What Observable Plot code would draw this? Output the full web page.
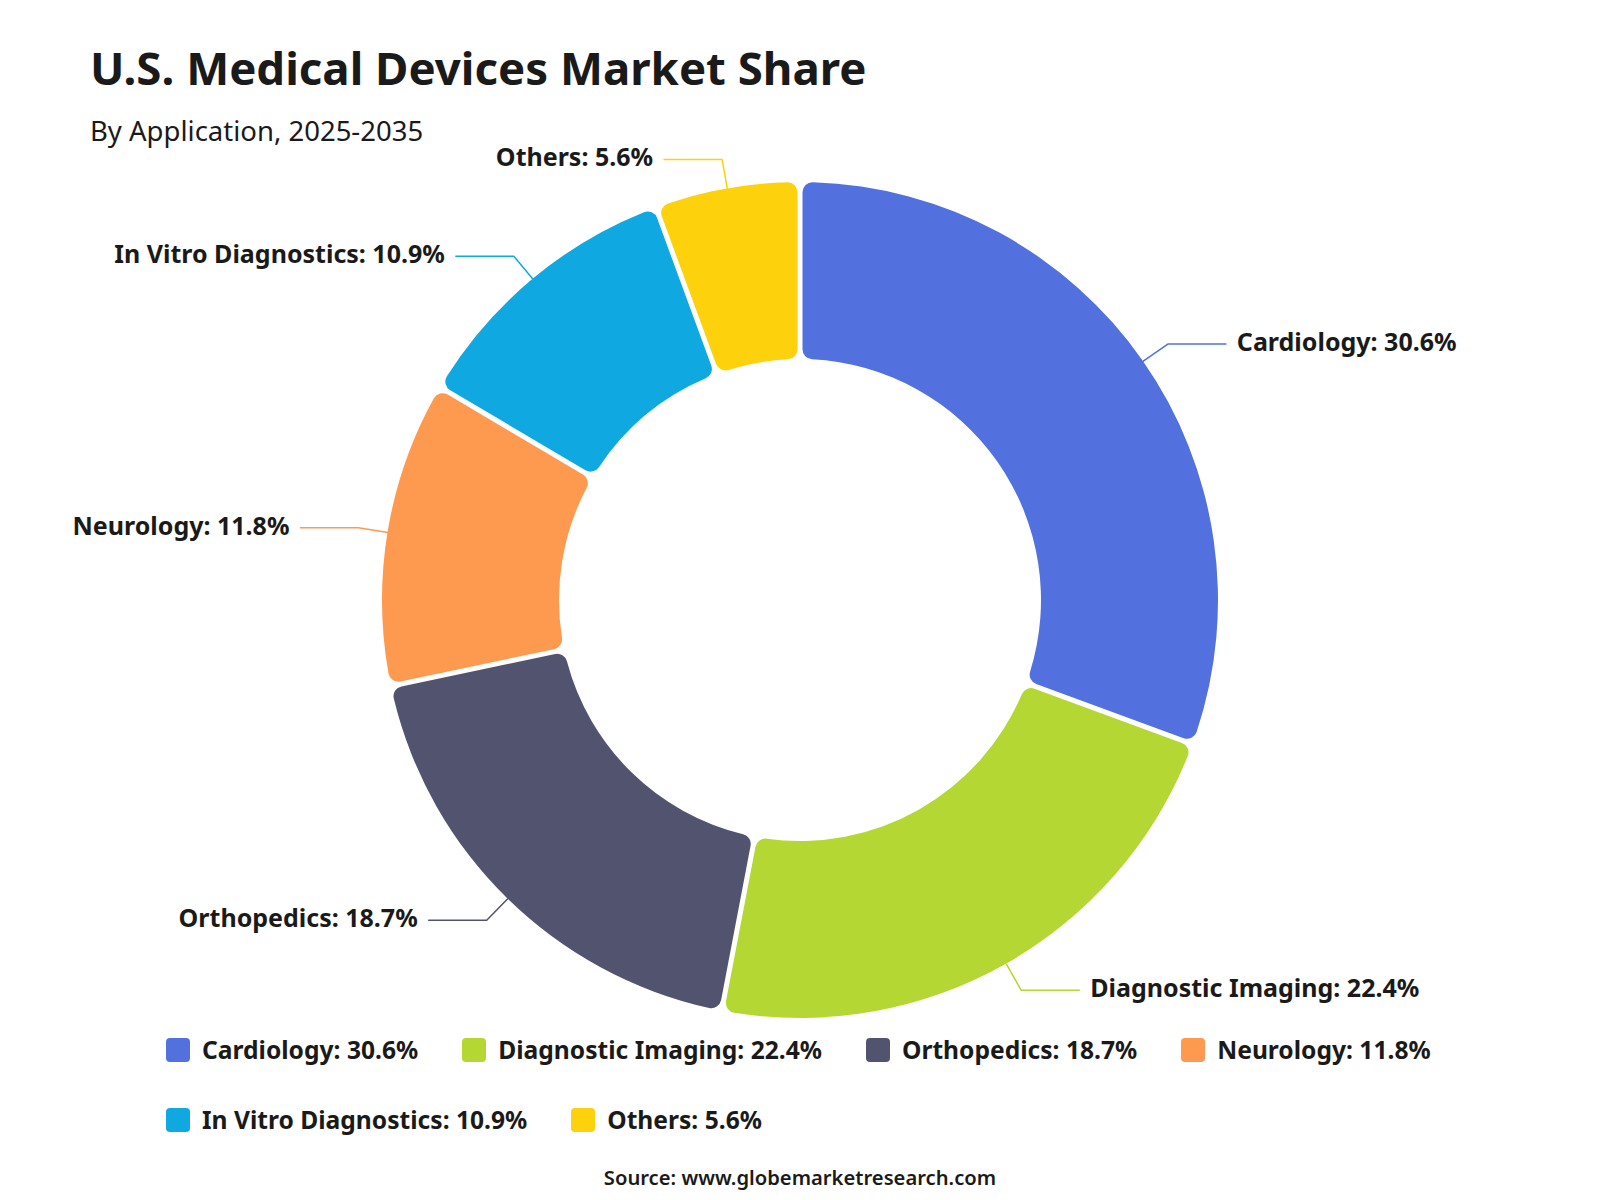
<!DOCTYPE html>
<html>
<head>
<meta charset="utf-8">
<script src="https://cdn.jsdelivr.net/npm/d3@7"></script>
<script src="https://cdn.jsdelivr.net/npm/@observablehq/plot@0.6"></script>
<style>
  html, body { margin: 0; padding: 0; background: #ffffff; }
  body { font-family: "Noto Sans", "Open Sans", sans-serif; color: #1a1a1a; }
  #wrap { position: relative; width: 1600px; height: 1200px; overflow: hidden; background: #fff; }
  #chart { position: absolute; left: 0; top: 0; }
  #chart svg { display: block; }
  .title { position: absolute; left: 90px; top: 45px; font-size: 45.6px; font-weight: 700; line-height: 1; color: #1a1a1a; white-space: nowrap; }
  .subtitle { position: absolute; left: 90px; top: 117px; font-size: 27.5px; font-weight: 400; line-height: 1; color: #1a1a1a; white-space: nowrap; }
  .legend { position: absolute; left: 166px; top: 1038px; width: 1360px; display: flex; flex-wrap: wrap; column-gap: 44px; row-gap: 46px; }
  .item { display: flex; align-items: center; height: 24px; }
  .sw { width: 24px; height: 24px; border-radius: 4px; margin-right: 12px; flex: none; }
  .lt { font-size: 24.6px; font-weight: 700; line-height: 1; white-space: nowrap; color: #1a1a1a; }
  .source { position: absolute; left: 0; width: 1600px; top: 1167px; text-align: center; font-size: 20.2px; font-weight: 600; line-height: 1; color: #1a1a1a; }
</style>
</head>
<body>
<div id="wrap">
  <div id="chart"></div>
  <div class="title" id="title"></div>
  <div class="subtitle" id="subtitle"></div>
  <div class="legend" id="legend"></div>
  <div class="source" id="source"></div>
</div>
<script>
// ---- data ----
const categories = ["Cardiology", "Diagnostic Imaging", "Orthopedics", "Neurology", "In Vitro Diagnostics", "Others"];
const shares = [30.6, 22.4, 18.7, 11.8, 10.9, 5.6];
const colors = ["#5271de", "#b5d733", "#52546f", "#fe9a4f", "#10a8e0", "#fdd10c"];
const titleText = "U.S. Medical Devices Market Share";
const subtitleText = "By Application, 2025-2035";
const sourceText = "Source: www.globemarketresearch.com";

// ---- derived table ----
const rows = categories.map((c, i) => ({category: c, share: shares[i], label: `${c}: ${shares[i].toFixed(1)}%`}));

const OUTER = 1;              // outer radius in scale units
const INNER = 241 / 418;      // inner radius fraction
const L1 = 30 / 418, L2 = 58 / 418, GAP = 11 / 418;

const pie = d3.pie().sort(null).value(d => d.share).startAngle(0).endAngle(2 * Math.PI);
const arcs = pie(rows);

const leader = [];
const labels = [];
arcs.forEach(a => {
  const m = (a.startAngle + a.endAngle) / 2;
  const sx = Math.sin(m), sy = Math.cos(m);
  const right = sx >= 0;
  const p0 = [sx * OUTER, sy * OUTER];
  const p1 = [sx * (OUTER + L1), sy * (OUTER + L1)];
  const p2 = [p1[0] + (right ? L2 : -L2), p1[1]];
  [p0, p1, p2].forEach(p => leader.push({category: a.data.category, x: p[0], y: p[1]}));
  labels.push({category: a.data.category, label: a.data.label, x: p2[0] + (right ? GAP : -GAP), y: p2[1], right});
});

// custom donut mark drawn with Plot's scales
function donut(data, {inner, outer, padPx = 5, corner = 10}) {
  return (index, scales) => {
    const {x, y, color} = scales;
    const cx = x(0), cy = y(0);
    const R = Math.abs(x(outer) - cx);
    const r = Math.abs(x(inner) - cx);
    const padRadius = Math.sqrt(R * R + r * r);
    const arc = d3.arc().innerRadius(r).outerRadius(R).cornerRadius(corner)
      .padRadius(padRadius).padAngle(padPx / padRadius);
    const g = d3.create("svg:g").attr("transform", `translate(${cx},${cy})`);
    g.selectAll("path").data(data).join("path")
      .attr("d", arc)
      .attr("fill", d => color(d.data.category));
    return g.node();
  };
}

const plot = Plot.plot({
  width: 1600,
  height: 1200,
  marginTop: 0, marginRight: 0, marginBottom: 0, marginLeft: 0,
  x: {domain: [-1, 1], range: [382, 1218], axis: null},
  y: {domain: [-1, 1], range: [1018, 182], axis: null},
  color: {domain: categories, range: colors},
  style: {fontFamily: "'Noto Sans', 'Open Sans', sans-serif", background: "#fff", overflow: "visible"},
  marks: [
    donut(arcs, {inner: INNER, outer: OUTER}),
    Plot.line(leader, {x: "x", y: "y", z: "category", stroke: "category", strokeWidth: 1.5, curve: "linear"}),
    Plot.text(labels.filter(d => d.right), {x: "x", y: "y", text: "label", textAnchor: "start", fontSize: 25, fontWeight: "bold", fill: "#1a1a1a", dy: -1}),
    Plot.text(labels.filter(d => !d.right), {x: "x", y: "y", text: "label", textAnchor: "end", fontSize: 25, fontWeight: "bold", fill: "#1a1a1a", dy: -1})
  ]
});
document.getElementById("chart").appendChild(plot);

document.getElementById("title").textContent = titleText;
document.getElementById("subtitle").textContent = subtitleText;
document.getElementById("source").textContent = sourceText;

const colorScale = plot.scale("color");
const legend = document.getElementById("legend");
rows.forEach(d => {
  const item = document.createElement("div");
  item.className = "item";
  const sw = document.createElement("div");
  sw.className = "sw";
  sw.style.background = colorScale.apply(d.category);
  const t = document.createElement("div");
  t.className = "lt";
  t.textContent = d.label;
  item.appendChild(sw);
  item.appendChild(t);
  legend.appendChild(item);
});
</script>
</body>
</html>
